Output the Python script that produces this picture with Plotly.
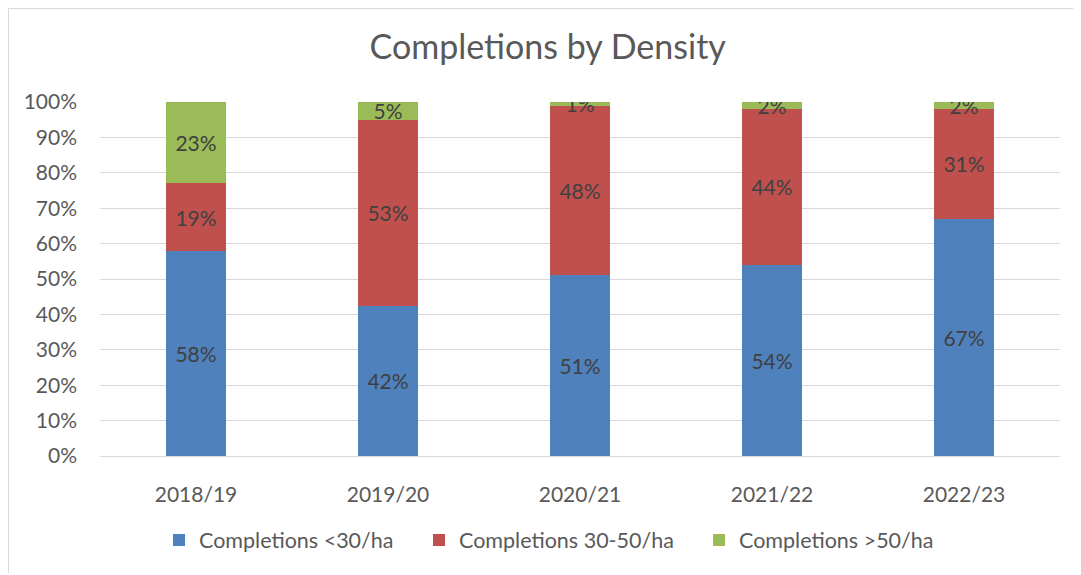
import plotly.graph_objects as go

years = ["2018/19", "2019/20", "2020/21", "2021/22", "2022/23"]
low = [58.0, 42.4, 51.0, 54.0, 67.0]
mid = [19.0, 52.6, 48.0, 44.0, 31.0]
high = [23.0, 5.0, 1.0, 2.0, 2.0]

series = [
    ("Completions <30/ha", low, "#4F81BD"),
    ("Completions 30-50/ha", mid, "#C0504D"),
    ("Completions >50/ha", high, "#9BBB59"),
]

FONT = "Lato, 'Open Sans', sans-serif"
W, H = 1073, 567  # page body adds an 8px offset

fig = go.Figure()
legend_ids = ["legend", "legend2", "legend3"]
for (name, vals, color), lg in zip(series, legend_ids):
    fig.add_trace(go.Bar(
        x=years, y=vals, name=name, legend=lg, showlegend=True,
        marker=dict(color=color, line=dict(width=0)),
        text=[f"{v:.0f}%" for v in vals],
        textposition="inside",
        insidetextanchor="middle",
        textangle=0,
        textfont=dict(size=21, color="#404040", family=FONT),
    ))

legend_left = [151, 411, 691]
legend_style = {}
for lg, lx in zip(legend_ids, legend_left):
    legend_style[lg] = dict(orientation="h", xref="container", yref="container",
                            x=lx / W, xanchor="left", y=1 - 532 / H, yanchor="middle",
                            font=dict(size=21.5, color="#595959"), itemwidth=30,
                            bgcolor="rgba(0,0,0,0)", visible=True)

fig.update_layout(
    showlegend=True,
    barmode="stack",
    bargap=0.6875,
    width=W, height=H,
    margin=dict(l=92, r=21, t=94, b=119),
    paper_bgcolor="white", plot_bgcolor="white",
    font=dict(family=FONT, color="#595959"),
    title=dict(text="Completions by Density", x=0.503, xanchor="center",
               y=1 - 39 / H, yanchor="middle",
               font=dict(size=34, color="#595959", family=FONT)),
    uniformtext=dict(minsize=21, mode="show"),
    xaxis=dict(showgrid=False, showline=True, linecolor="#d9d9d9", linewidth=1,
               ticks="", tickfont=dict(size=21, color="#595959"),
               ticklabelstandoff=20, automargin=False),
    yaxis=dict(range=[0, 100], dtick=10, ticksuffix="%", showgrid=True,
               gridcolor="#d9d9d9", gridwidth=1, zeroline=False,
               tickfont=dict(size=21, color="#595959"), ticklabelstandoff=22,
               automargin=False),
    shapes=[
        dict(type="line", xref="paper", yref="paper",
             x0=(0.5 - 92) / 960, x1=(0.5 - 92) / 960, y0=-0.33, y1=(448 - 0.5) / 354,
             line=dict(color="#d9d9d9", width=1)),
        dict(type="line", xref="paper", yref="paper",
             x0=(0.5 - 92) / 960, x1=1.03, y0=(448 - 0.5) / 354, y1=(448 - 0.5) / 354,
             line=dict(color="#d9d9d9", width=1)),
    ],
    **legend_style,
)

fig.write_html("out.html")
